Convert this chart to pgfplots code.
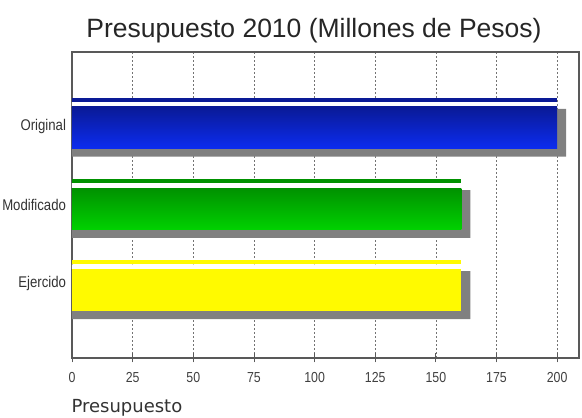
\documentclass[border=0pt]{standalone}
\usepackage{pgfplots}
\pgfplotsset{compat=1.18}
\usepackage{fontspec}
\setmainfont{Liberation Sans}
\newfontfamily\dejavu{DejaVu Sans}
\newfontfamily\narrow[FakeStretch=0.85]{Liberation Sans}
\definecolor{bluetop}{RGB}{10,26,150}
\definecolor{bluebot}{RGB}{12,44,240}
\definecolor{greentop}{RGB}{0,145,0}
\definecolor{greenbot}{RGB}{0,210,0}
\definecolor{yel}{RGB}{255,250,0}
\definecolor{shadowgray}{RGB}{128,128,128}
\begin{document}
\begin{tikzpicture}
\path[use as bounding box] (-72pt,-60pt) rectangle (510pt,358pt);
\begin{axis}[
  at={(0pt,0pt)}, anchor=south west,
  scale only axis, width=507pt, height=306pt,
  xmin=0, xmax=209, ymin=-0.834, ymax=2.933,
  xtick={0,25,...,200},
  xtick pos=bottom,
  ytick={0.08,1.05,2.01},
  yticklabels={Ejercido,Modificado,Original},
  ytick style={draw=none},
  xtick style={black!65, line width=0.8pt},
  tick align=center,
  major tick length=9pt,
  xmajorgrids,
  major grid style={black!55, dash pattern=on 2pt off 2pt, line width=0.6pt},
  axis line style={black!65, line width=1.2pt},
  /pgf/number format/assume math mode=true,
  xticklabel style={font=\narrow\fontsize{14.5}{15}\selectfont, text=black!75, yshift=-6pt},
  yticklabel style={font=\narrow\fontsize{15.5}{16}\selectfont, text=black!80, xshift=2pt},
]
% shadows
\addplot[xbar, bar width=0.59, bar shift=-0.061, fill=shadowgray, draw=none]
  coordinates {(164.2,0) (164.2,1) (203.7,2)};
% white gap
\addplot[xbar, bar width=0.06, bar shift=0.29, fill=white, draw=none]
  coordinates {(160.5,0) (160.5,1) (200,2)};
% thin strips
\addplot[xbar, bar width=0.055, bar shift=0.345, fill=yel, draw=none]
  coordinates {(160.5,0)};
\addplot[xbar, bar width=0.05, bar shift=0.345, fill=greentop, draw=none]
  coordinates {(160.5,1)};
\addplot[xbar, bar width=0.05, bar shift=0.345, fill=bluetop, draw=none]
  coordinates {(200,2)};
% main bars
\addplot[xbar, bar width=0.515, bar shift=0, fill=yel, draw=none]
  coordinates {(160.5,0)};
\addplot[xbar, bar width=0.515, bar shift=0, top color=greentop, bottom color=greenbot, draw=none]
  coordinates {(160.5,1)};
\addplot[xbar, bar width=0.515, bar shift=0, top color=bluetop, bottom color=bluebot, draw=none]
  coordinates {(200,2)};
\end{axis}
\node[font=\fontsize{26.5}{29}\selectfont, text=black!85] at (242pt,327pt) {Presupuesto 2010 (Millones de Pesos)};
\node[font=\dejavu\fontsize{18}{20}\selectfont, text=black!80, anchor=west] at (-4pt,-50pt) {Presupuesto};
\end{tikzpicture}
\end{document}
